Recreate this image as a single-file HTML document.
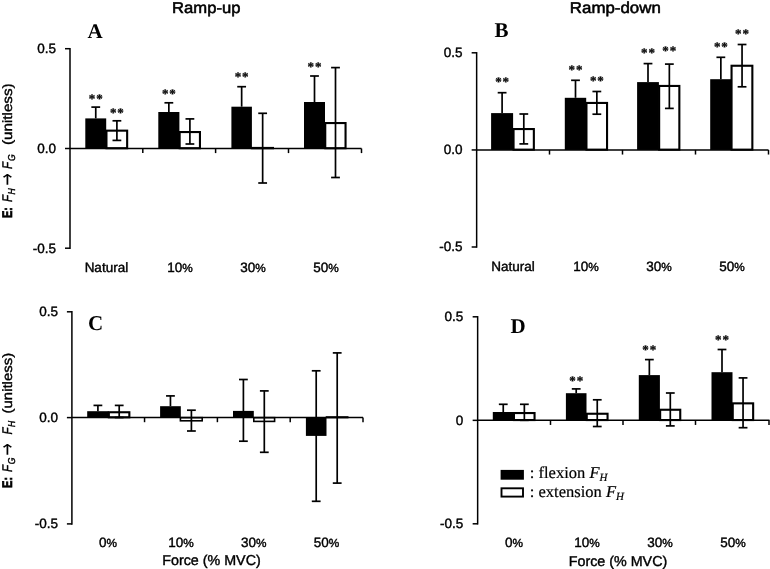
<!DOCTYPE html>
<html><head><meta charset="utf-8"><title>Figure</title>
<style>html,body{margin:0;padding:0;background:#fff}svg{display:block;will-change:transform}text{text-rendering:geometricPrecision}</style></head>
<body>
<svg width="770" height="569" viewBox="0 0 770 569">
<rect width="770" height="569" fill="#fff"/>
<rect x="85.30" y="118.40" width="20.90" height="30.10" fill="#000"/>
<rect x="106.45" y="130.65" width="20.70" height="17.55" fill="#fff" stroke="#000" stroke-width="2.1"/>
<rect x="158.30" y="112.00" width="21.10" height="36.50" fill="#000"/>
<rect x="179.65" y="132.05" width="20.30" height="16.15" fill="#fff" stroke="#000" stroke-width="2.1"/>
<rect x="231.40" y="106.70" width="20.50" height="41.80" fill="#000"/>
<line x1="251.10" y1="148.07" x2="274.00" y2="148.07" stroke="#000" stroke-width="2.3499999999999943"/>
<rect x="304.00" y="102.00" width="21.00" height="46.50" fill="#000"/>
<rect x="325.25" y="123.05" width="20.30" height="25.15" fill="#fff" stroke="#000" stroke-width="2.1"/>
<line x1="70.00" y1="47.95" x2="70.00" y2="248.95" stroke="#000" stroke-width="1.5"/>
<line x1="65.00" y1="48.70" x2="70.00" y2="48.70" stroke="#000" stroke-width="1.5"/>
<line x1="65.00" y1="148.50" x2="70.00" y2="148.50" stroke="#000" stroke-width="1.5"/>
<line x1="65.00" y1="248.20" x2="70.00" y2="248.20" stroke="#000" stroke-width="1.5"/>
<line x1="70.00" y1="148.50" x2="361.50" y2="148.50" stroke="#000" stroke-width="1.5"/>
<line x1="142.80" y1="148.50" x2="142.80" y2="153.10" stroke="#000" stroke-width="1.5"/>
<line x1="215.60" y1="148.50" x2="215.60" y2="153.10" stroke="#000" stroke-width="1.5"/>
<line x1="288.50" y1="148.50" x2="288.50" y2="153.10" stroke="#000" stroke-width="1.5"/>
<line x1="361.50" y1="148.50" x2="361.50" y2="153.10" stroke="#000" stroke-width="1.5"/>
<line x1="95.75" y1="107.10" x2="95.75" y2="118.40" stroke="#000" stroke-width="1.7"/>
<line x1="91.35" y1="107.10" x2="100.15" y2="107.10" stroke="#000" stroke-width="1.7"/>
<text x="96.22" y="102.70" font-size="13" text-anchor="middle" font-family='"Liberation Serif", serif'  font-weight="bold" letter-spacing="0.95" stroke="#000" stroke-width="0.3">**</text>
<line x1="116.90" y1="120.80" x2="116.90" y2="140.40" stroke="#000" stroke-width="1.7"/>
<line x1="112.50" y1="120.80" x2="121.30" y2="120.80" stroke="#000" stroke-width="1.7"/>
<line x1="112.50" y1="140.40" x2="121.30" y2="140.40" stroke="#000" stroke-width="1.7"/>
<text x="117.38" y="116.65" font-size="13" text-anchor="middle" font-family='"Liberation Serif", serif'  font-weight="bold" letter-spacing="0.95" stroke="#000" stroke-width="0.3">**</text>
<line x1="168.85" y1="102.80" x2="168.85" y2="112.00" stroke="#000" stroke-width="1.7"/>
<line x1="164.45" y1="102.80" x2="173.25" y2="102.80" stroke="#000" stroke-width="1.7"/>
<text x="169.33" y="97.60" font-size="13" text-anchor="middle" font-family='"Liberation Serif", serif'  font-weight="bold" letter-spacing="0.95" stroke="#000" stroke-width="0.3">**</text>
<line x1="189.90" y1="118.90" x2="189.90" y2="144.00" stroke="#000" stroke-width="1.7"/>
<line x1="185.50" y1="118.90" x2="194.30" y2="118.90" stroke="#000" stroke-width="1.7"/>
<line x1="185.50" y1="144.00" x2="194.30" y2="144.00" stroke="#000" stroke-width="1.7"/>
<line x1="241.65" y1="86.70" x2="241.65" y2="106.70" stroke="#000" stroke-width="1.7"/>
<line x1="237.25" y1="86.70" x2="246.05" y2="86.70" stroke="#000" stroke-width="1.7"/>
<text x="242.12" y="81.20" font-size="13" text-anchor="middle" font-family='"Liberation Serif", serif'  font-weight="bold" letter-spacing="0.95" stroke="#000" stroke-width="0.3">**</text>
<line x1="262.65" y1="113.30" x2="262.65" y2="183.00" stroke="#000" stroke-width="1.7"/>
<line x1="258.25" y1="113.30" x2="267.05" y2="113.30" stroke="#000" stroke-width="1.7"/>
<line x1="258.25" y1="183.00" x2="267.05" y2="183.00" stroke="#000" stroke-width="1.7"/>
<line x1="314.50" y1="76.00" x2="314.50" y2="102.00" stroke="#000" stroke-width="1.7"/>
<line x1="310.10" y1="76.00" x2="318.90" y2="76.00" stroke="#000" stroke-width="1.7"/>
<text x="314.98" y="70.95" font-size="13" text-anchor="middle" font-family='"Liberation Serif", serif'  font-weight="bold" letter-spacing="0.95" stroke="#000" stroke-width="0.3">**</text>
<line x1="335.50" y1="67.60" x2="335.50" y2="177.50" stroke="#000" stroke-width="1.7"/>
<line x1="331.10" y1="67.60" x2="339.90" y2="67.60" stroke="#000" stroke-width="1.7"/>
<line x1="331.10" y1="177.50" x2="339.90" y2="177.50" stroke="#000" stroke-width="1.7"/>
<text x="56.00" y="53.00" font-size="13.5" text-anchor="end" font-family='"Liberation Sans", sans-serif' stroke="#000" stroke-width="0.4" >0.5</text>
<text x="56.00" y="152.80" font-size="13.5" text-anchor="end" font-family='"Liberation Sans", sans-serif' stroke="#000" stroke-width="0.4" >0.0</text>
<text x="56.00" y="252.50" font-size="13.5" text-anchor="end" font-family='"Liberation Sans", sans-serif' stroke="#000" stroke-width="0.4" >-0.5</text>
<text x="106.40" y="271.50" font-size="13.5" text-anchor="middle" font-family='"Liberation Sans", sans-serif' stroke="#000" stroke-width="0.4" >Natural</text>
<text x="180.00" y="271.50" font-size="13.5" text-anchor="middle" font-family='"Liberation Sans", sans-serif' stroke="#000" stroke-width="0.4" >10<tspan font-size="11.8">%</tspan></text>
<text x="253.00" y="271.50" font-size="13.5" text-anchor="middle" font-family='"Liberation Sans", sans-serif' stroke="#000" stroke-width="0.4" >30<tspan font-size="11.8">%</tspan></text>
<text x="326.00" y="271.50" font-size="13.5" text-anchor="middle" font-family='"Liberation Sans", sans-serif' stroke="#000" stroke-width="0.4" >50<tspan font-size="11.8">%</tspan></text>
<text x="87.40" y="37.60" font-size="21" text-anchor="start" font-family='"Liberation Serif", serif'  font-weight="bold">A</text>
<rect x="491.10" y="113.10" width="22.00" height="36.85" fill="#000"/>
<rect x="513.55" y="129.05" width="20.30" height="20.60" fill="#fff" stroke="#000" stroke-width="2.1"/>
<rect x="564.80" y="97.80" width="21.40" height="52.15" fill="#000"/>
<rect x="586.45" y="102.95" width="20.60" height="46.70" fill="#fff" stroke="#000" stroke-width="2.1"/>
<rect x="637.10" y="82.10" width="21.80" height="67.85" fill="#000"/>
<rect x="659.15" y="85.95" width="20.20" height="63.70" fill="#fff" stroke="#000" stroke-width="2.1"/>
<rect x="710.20" y="79.20" width="21.30" height="70.75" fill="#000"/>
<rect x="731.55" y="65.75" width="20.80" height="83.90" fill="#fff" stroke="#000" stroke-width="2.1"/>
<line x1="476.65" y1="52.05" x2="476.65" y2="247.75" stroke="#000" stroke-width="1.5"/>
<line x1="471.65" y1="52.80" x2="476.65" y2="52.80" stroke="#000" stroke-width="1.5"/>
<line x1="471.65" y1="149.95" x2="476.65" y2="149.95" stroke="#000" stroke-width="1.5"/>
<line x1="471.65" y1="247.00" x2="476.65" y2="247.00" stroke="#000" stroke-width="1.5"/>
<line x1="476.65" y1="149.95" x2="768.50" y2="149.95" stroke="#000" stroke-width="1.5"/>
<line x1="549.50" y1="149.95" x2="549.50" y2="154.55" stroke="#000" stroke-width="1.5"/>
<line x1="622.50" y1="149.95" x2="622.50" y2="154.55" stroke="#000" stroke-width="1.5"/>
<line x1="695.50" y1="149.95" x2="695.50" y2="154.55" stroke="#000" stroke-width="1.5"/>
<line x1="768.50" y1="149.95" x2="768.50" y2="154.55" stroke="#000" stroke-width="1.5"/>
<line x1="502.10" y1="92.70" x2="502.10" y2="113.10" stroke="#000" stroke-width="1.7"/>
<line x1="497.70" y1="92.70" x2="506.50" y2="92.70" stroke="#000" stroke-width="1.7"/>
<text x="502.58" y="85.95" font-size="13" text-anchor="middle" font-family='"Liberation Serif", serif'  font-weight="bold" letter-spacing="0.95" stroke="#000" stroke-width="0.3">**</text>
<line x1="523.80" y1="114.00" x2="523.80" y2="143.90" stroke="#000" stroke-width="1.7"/>
<line x1="519.40" y1="114.00" x2="528.20" y2="114.00" stroke="#000" stroke-width="1.7"/>
<line x1="519.40" y1="143.90" x2="528.20" y2="143.90" stroke="#000" stroke-width="1.7"/>
<line x1="575.50" y1="80.30" x2="575.50" y2="97.80" stroke="#000" stroke-width="1.7"/>
<line x1="571.10" y1="80.30" x2="579.90" y2="80.30" stroke="#000" stroke-width="1.7"/>
<text x="575.98" y="73.70" font-size="13" text-anchor="middle" font-family='"Liberation Serif", serif'  font-weight="bold" letter-spacing="0.95" stroke="#000" stroke-width="0.3">**</text>
<line x1="596.85" y1="91.50" x2="596.85" y2="114.20" stroke="#000" stroke-width="1.7"/>
<line x1="592.45" y1="91.50" x2="601.25" y2="91.50" stroke="#000" stroke-width="1.7"/>
<line x1="592.45" y1="114.20" x2="601.25" y2="114.20" stroke="#000" stroke-width="1.7"/>
<text x="597.33" y="84.80" font-size="13" text-anchor="middle" font-family='"Liberation Serif", serif'  font-weight="bold" letter-spacing="0.95" stroke="#000" stroke-width="0.3">**</text>
<line x1="648.00" y1="63.60" x2="648.00" y2="82.10" stroke="#000" stroke-width="1.7"/>
<line x1="643.60" y1="63.60" x2="652.40" y2="63.60" stroke="#000" stroke-width="1.7"/>
<text x="648.48" y="57.30" font-size="13" text-anchor="middle" font-family='"Liberation Serif", serif'  font-weight="bold" letter-spacing="0.95" stroke="#000" stroke-width="0.3">**</text>
<line x1="669.35" y1="64.10" x2="669.35" y2="108.40" stroke="#000" stroke-width="1.7"/>
<line x1="664.95" y1="64.10" x2="673.75" y2="64.10" stroke="#000" stroke-width="1.7"/>
<line x1="664.95" y1="108.40" x2="673.75" y2="108.40" stroke="#000" stroke-width="1.7"/>
<text x="669.82" y="55.10" font-size="13" text-anchor="middle" font-family='"Liberation Serif", serif'  font-weight="bold" letter-spacing="0.95" stroke="#000" stroke-width="0.3">**</text>
<line x1="720.85" y1="57.30" x2="720.85" y2="79.20" stroke="#000" stroke-width="1.7"/>
<line x1="716.45" y1="57.30" x2="725.25" y2="57.30" stroke="#000" stroke-width="1.7"/>
<text x="721.33" y="50.60" font-size="13" text-anchor="middle" font-family='"Liberation Serif", serif'  font-weight="bold" letter-spacing="0.95" stroke="#000" stroke-width="0.3">**</text>
<line x1="742.05" y1="44.50" x2="742.05" y2="86.80" stroke="#000" stroke-width="1.7"/>
<line x1="737.65" y1="44.50" x2="746.45" y2="44.50" stroke="#000" stroke-width="1.7"/>
<line x1="737.65" y1="86.80" x2="746.45" y2="86.80" stroke="#000" stroke-width="1.7"/>
<text x="742.52" y="37.60" font-size="13" text-anchor="middle" font-family='"Liberation Serif", serif'  font-weight="bold" letter-spacing="0.95" stroke="#000" stroke-width="0.3">**</text>
<text x="462.50" y="57.10" font-size="13.5" text-anchor="end" font-family='"Liberation Sans", sans-serif' stroke="#000" stroke-width="0.4" >0.5</text>
<text x="462.50" y="154.25" font-size="13.5" text-anchor="end" font-family='"Liberation Sans", sans-serif' stroke="#000" stroke-width="0.4" >0.0</text>
<text x="462.50" y="251.30" font-size="13.5" text-anchor="end" font-family='"Liberation Sans", sans-serif' stroke="#000" stroke-width="0.4" >-0.5</text>
<text x="513.00" y="271.00" font-size="13.5" text-anchor="middle" font-family='"Liberation Sans", sans-serif' stroke="#000" stroke-width="0.4" >Natural</text>
<text x="586.00" y="271.00" font-size="13.5" text-anchor="middle" font-family='"Liberation Sans", sans-serif' stroke="#000" stroke-width="0.4" >10<tspan font-size="11.8">%</tspan></text>
<text x="659.00" y="271.00" font-size="13.5" text-anchor="middle" font-family='"Liberation Sans", sans-serif' stroke="#000" stroke-width="0.4" >30<tspan font-size="11.8">%</tspan></text>
<text x="732.00" y="271.00" font-size="13.5" text-anchor="middle" font-family='"Liberation Sans", sans-serif' stroke="#000" stroke-width="0.4" >50<tspan font-size="11.8">%</tspan></text>
<text x="494.40" y="37.10" font-size="21" text-anchor="start" font-family='"Liberation Serif", serif'  font-weight="bold">B</text>
<rect x="87.20" y="411.20" width="21.40" height="6.40" fill="#000"/>
<rect x="108.85" y="412.25" width="20.50" height="5.05" fill="#fff" stroke="#000" stroke-width="2.1"/>
<rect x="160.10" y="406.20" width="20.70" height="11.40" fill="#000"/>
<rect x="180.40" y="417.65" width="21.80" height="3.15" fill="#fff" stroke="#000" stroke-width="1.6"/>
<rect x="233.00" y="410.90" width="20.80" height="6.70" fill="#000"/>
<rect x="253.80" y="417.65" width="20.80" height="3.75" fill="#fff" stroke="#000" stroke-width="1.6"/>
<rect x="305.90" y="417.60" width="20.60" height="18.30" fill="#000"/>
<line x1="325.70" y1="417.27" x2="348.50" y2="417.27" stroke="#000" stroke-width="2.150000000000034"/>
<line x1="71.90" y1="311.05" x2="71.90" y2="524.65" stroke="#000" stroke-width="1.5"/>
<line x1="66.90" y1="311.80" x2="71.90" y2="311.80" stroke="#000" stroke-width="1.5"/>
<line x1="66.90" y1="417.60" x2="71.90" y2="417.60" stroke="#000" stroke-width="1.5"/>
<line x1="66.90" y1="523.90" x2="71.90" y2="523.90" stroke="#000" stroke-width="1.5"/>
<line x1="71.90" y1="417.60" x2="363.00" y2="417.60" stroke="#000" stroke-width="1.5"/>
<line x1="144.55" y1="417.60" x2="144.55" y2="422.20" stroke="#000" stroke-width="1.5"/>
<line x1="217.40" y1="417.60" x2="217.40" y2="422.20" stroke="#000" stroke-width="1.5"/>
<line x1="290.20" y1="417.60" x2="290.20" y2="422.20" stroke="#000" stroke-width="1.5"/>
<line x1="363.00" y1="417.60" x2="363.00" y2="422.20" stroke="#000" stroke-width="1.5"/>
<line x1="97.90" y1="405.40" x2="97.90" y2="411.20" stroke="#000" stroke-width="1.7"/>
<line x1="93.50" y1="405.40" x2="102.30" y2="405.40" stroke="#000" stroke-width="1.7"/>
<line x1="119.20" y1="405.40" x2="119.20" y2="417.50" stroke="#000" stroke-width="1.7"/>
<line x1="114.80" y1="405.40" x2="123.60" y2="405.40" stroke="#000" stroke-width="1.7"/>
<line x1="114.80" y1="417.50" x2="123.60" y2="417.50" stroke="#000" stroke-width="1.7"/>
<line x1="170.45" y1="395.90" x2="170.45" y2="406.20" stroke="#000" stroke-width="1.7"/>
<line x1="166.05" y1="395.90" x2="174.85" y2="395.90" stroke="#000" stroke-width="1.7"/>
<line x1="191.40" y1="410.20" x2="191.40" y2="431.00" stroke="#000" stroke-width="1.7"/>
<line x1="187.00" y1="410.20" x2="195.80" y2="410.20" stroke="#000" stroke-width="1.7"/>
<line x1="187.00" y1="431.00" x2="195.80" y2="431.00" stroke="#000" stroke-width="1.7"/>
<line x1="243.40" y1="379.50" x2="243.40" y2="441.20" stroke="#000" stroke-width="1.7"/>
<line x1="239.00" y1="379.50" x2="247.80" y2="379.50" stroke="#000" stroke-width="1.7"/>
<line x1="239.00" y1="441.20" x2="247.80" y2="441.20" stroke="#000" stroke-width="1.7"/>
<line x1="264.30" y1="390.90" x2="264.30" y2="452.30" stroke="#000" stroke-width="1.7"/>
<line x1="259.90" y1="390.90" x2="268.70" y2="390.90" stroke="#000" stroke-width="1.7"/>
<line x1="259.90" y1="452.30" x2="268.70" y2="452.30" stroke="#000" stroke-width="1.7"/>
<line x1="316.20" y1="370.80" x2="316.20" y2="501.30" stroke="#000" stroke-width="1.7"/>
<line x1="311.80" y1="370.80" x2="320.60" y2="370.80" stroke="#000" stroke-width="1.7"/>
<line x1="311.80" y1="501.30" x2="320.60" y2="501.30" stroke="#000" stroke-width="1.7"/>
<line x1="337.20" y1="352.90" x2="337.20" y2="483.10" stroke="#000" stroke-width="1.7"/>
<line x1="332.80" y1="352.90" x2="341.60" y2="352.90" stroke="#000" stroke-width="1.7"/>
<line x1="332.80" y1="483.10" x2="341.60" y2="483.10" stroke="#000" stroke-width="1.7"/>
<text x="58.00" y="316.10" font-size="13.5" text-anchor="end" font-family='"Liberation Sans", sans-serif' stroke="#000" stroke-width="0.4" >0.5</text>
<text x="58.00" y="421.90" font-size="13.5" text-anchor="end" font-family='"Liberation Sans", sans-serif' stroke="#000" stroke-width="0.4" >0.0</text>
<text x="58.00" y="528.20" font-size="13.5" text-anchor="end" font-family='"Liberation Sans", sans-serif' stroke="#000" stroke-width="0.4" >-0.5</text>
<text x="108.00" y="547.10" font-size="13.5" text-anchor="middle" font-family='"Liberation Sans", sans-serif' stroke="#000" stroke-width="0.4" >0<tspan font-size="11.8">%</tspan></text>
<text x="181.00" y="547.10" font-size="13.5" text-anchor="middle" font-family='"Liberation Sans", sans-serif' stroke="#000" stroke-width="0.4" >10<tspan font-size="11.8">%</tspan></text>
<text x="253.70" y="547.10" font-size="13.5" text-anchor="middle" font-family='"Liberation Sans", sans-serif' stroke="#000" stroke-width="0.4" >30<tspan font-size="11.8">%</tspan></text>
<text x="326.50" y="547.10" font-size="13.5" text-anchor="middle" font-family='"Liberation Sans", sans-serif' stroke="#000" stroke-width="0.4" >50<tspan font-size="11.8">%</tspan></text>
<text x="88.00" y="329.50" font-size="21" text-anchor="start" font-family='"Liberation Serif", serif'  font-weight="bold">C</text>
<rect x="492.80" y="412.00" width="20.90" height="8.35" fill="#000"/>
<rect x="513.95" y="413.05" width="20.60" height="7.00" fill="#fff" stroke="#000" stroke-width="2.1"/>
<rect x="565.90" y="393.20" width="20.60" height="27.15" fill="#000"/>
<rect x="586.75" y="413.75" width="20.80" height="6.30" fill="#fff" stroke="#000" stroke-width="2.1"/>
<rect x="638.80" y="375.10" width="21.10" height="45.25" fill="#000"/>
<rect x="660.15" y="409.75" width="20.10" height="10.30" fill="#fff" stroke="#000" stroke-width="2.1"/>
<rect x="711.50" y="372.20" width="21.00" height="48.15" fill="#000"/>
<rect x="732.75" y="403.35" width="20.40" height="16.70" fill="#fff" stroke="#000" stroke-width="2.1"/>
<line x1="477.65" y1="316.05" x2="477.65" y2="524.55" stroke="#000" stroke-width="1.5"/>
<line x1="472.65" y1="316.80" x2="477.65" y2="316.80" stroke="#000" stroke-width="1.5"/>
<line x1="472.65" y1="420.35" x2="477.65" y2="420.35" stroke="#000" stroke-width="1.5"/>
<line x1="472.65" y1="523.80" x2="477.65" y2="523.80" stroke="#000" stroke-width="1.5"/>
<line x1="477.65" y1="420.35" x2="769.50" y2="420.35" stroke="#000" stroke-width="1.5"/>
<line x1="550.50" y1="420.35" x2="550.50" y2="424.95" stroke="#000" stroke-width="1.5"/>
<line x1="623.00" y1="420.35" x2="623.00" y2="424.95" stroke="#000" stroke-width="1.5"/>
<line x1="695.50" y1="420.35" x2="695.50" y2="424.95" stroke="#000" stroke-width="1.5"/>
<line x1="769.00" y1="420.35" x2="769.00" y2="424.95" stroke="#000" stroke-width="1.5"/>
<line x1="503.25" y1="404.30" x2="503.25" y2="412.00" stroke="#000" stroke-width="1.7"/>
<line x1="498.85" y1="404.30" x2="507.65" y2="404.30" stroke="#000" stroke-width="1.7"/>
<line x1="524.35" y1="404.30" x2="524.35" y2="420.30" stroke="#000" stroke-width="1.7"/>
<line x1="519.95" y1="404.30" x2="528.75" y2="404.30" stroke="#000" stroke-width="1.7"/>
<line x1="519.95" y1="420.30" x2="528.75" y2="420.30" stroke="#000" stroke-width="1.7"/>
<line x1="576.20" y1="388.90" x2="576.20" y2="393.20" stroke="#000" stroke-width="1.7"/>
<line x1="571.80" y1="388.90" x2="580.60" y2="388.90" stroke="#000" stroke-width="1.7"/>
<text x="576.68" y="384.50" font-size="13" text-anchor="middle" font-family='"Liberation Serif", serif'  font-weight="bold" letter-spacing="0.95" stroke="#000" stroke-width="0.3">**</text>
<line x1="597.25" y1="399.80" x2="597.25" y2="426.50" stroke="#000" stroke-width="1.7"/>
<line x1="592.85" y1="399.80" x2="601.65" y2="399.80" stroke="#000" stroke-width="1.7"/>
<line x1="592.85" y1="426.50" x2="601.65" y2="426.50" stroke="#000" stroke-width="1.7"/>
<line x1="649.35" y1="359.60" x2="649.35" y2="375.10" stroke="#000" stroke-width="1.7"/>
<line x1="644.95" y1="359.60" x2="653.75" y2="359.60" stroke="#000" stroke-width="1.7"/>
<text x="649.82" y="354.00" font-size="13" text-anchor="middle" font-family='"Liberation Serif", serif'  font-weight="bold" letter-spacing="0.95" stroke="#000" stroke-width="0.3">**</text>
<line x1="670.30" y1="393.00" x2="670.30" y2="425.90" stroke="#000" stroke-width="1.7"/>
<line x1="665.90" y1="393.00" x2="674.70" y2="393.00" stroke="#000" stroke-width="1.7"/>
<line x1="665.90" y1="425.90" x2="674.70" y2="425.90" stroke="#000" stroke-width="1.7"/>
<line x1="722.00" y1="349.50" x2="722.00" y2="372.20" stroke="#000" stroke-width="1.7"/>
<line x1="717.60" y1="349.50" x2="726.40" y2="349.50" stroke="#000" stroke-width="1.7"/>
<text x="722.48" y="344.20" font-size="13" text-anchor="middle" font-family='"Liberation Serif", serif'  font-weight="bold" letter-spacing="0.95" stroke="#000" stroke-width="0.3">**</text>
<line x1="743.05" y1="377.90" x2="743.05" y2="427.70" stroke="#000" stroke-width="1.7"/>
<line x1="738.65" y1="377.90" x2="747.45" y2="377.90" stroke="#000" stroke-width="1.7"/>
<line x1="738.65" y1="427.70" x2="747.45" y2="427.70" stroke="#000" stroke-width="1.7"/>
<text x="463.20" y="321.10" font-size="13.5" text-anchor="end" font-family='"Liberation Sans", sans-serif' stroke="#000" stroke-width="0.4" >0.5</text>
<text x="463.20" y="424.65" font-size="13.5" text-anchor="end" font-family='"Liberation Sans", sans-serif' stroke="#000" stroke-width="0.4" >0</text>
<text x="463.20" y="528.10" font-size="13.5" text-anchor="end" font-family='"Liberation Sans", sans-serif' stroke="#000" stroke-width="0.4" >-0.5</text>
<text x="514.00" y="546.50" font-size="13.5" text-anchor="middle" font-family='"Liberation Sans", sans-serif' stroke="#000" stroke-width="0.4" >0<tspan font-size="11.8">%</tspan></text>
<text x="587.00" y="546.50" font-size="13.5" text-anchor="middle" font-family='"Liberation Sans", sans-serif' stroke="#000" stroke-width="0.4" >10<tspan font-size="11.8">%</tspan></text>
<text x="660.00" y="546.50" font-size="13.5" text-anchor="middle" font-family='"Liberation Sans", sans-serif' stroke="#000" stroke-width="0.4" >30<tspan font-size="11.8">%</tspan></text>
<text x="733.00" y="546.50" font-size="13.5" text-anchor="middle" font-family='"Liberation Sans", sans-serif' stroke="#000" stroke-width="0.4" >50<tspan font-size="11.8">%</tspan></text>
<text x="510.40" y="333.20" font-size="21" text-anchor="start" font-family='"Liberation Serif", serif'  font-weight="bold">D</text>
<text transform="translate(206.3,12.6) scale(1.06,1)" font-size="15.7" text-anchor="middle" font-family='"Liberation Sans", sans-serif' stroke="#000" stroke-width="0.55">Ramp-up</text>
<text transform="translate(615.3,12.5) scale(1.075,1)" font-size="15.7" text-anchor="middle" font-family='"Liberation Sans", sans-serif' stroke="#000" stroke-width="0.55">Ramp-down</text>
<text x="211.50" y="565.00" font-size="14.3" text-anchor="middle" font-family='"Liberation Sans", sans-serif' stroke="#000" stroke-width="0.4" >Force (% MVC)</text>
<text x="618.00" y="566.00" font-size="14.3" text-anchor="middle" font-family='"Liberation Sans", sans-serif' stroke="#000" stroke-width="0.4" >Force (% MVC)</text>

<g transform="translate(12.3,217.6) rotate(-90)" font-family='"Liberation Sans", sans-serif' fill="#000">
<text transform="translate(-0.50,0) scale(0.78,1)" font-size="14" font-weight="bold" stroke="#000" stroke-width="0.7">E:</text>
<text transform="translate(15.50,0) scale(0.82,1)" font-size="14" font-style="italic" stroke="#000" stroke-width="0.4">F</text>
<text transform="translate(23.20,3) scale(0.85,1)" font-size="10" font-style="italic" stroke="#000" stroke-width="0.4">H</text>
<text transform="translate(32.00,1.8) scale(1,1.45)" font-size="14.5" font-family='"DejaVu Sans", sans-serif'>→</text>
<text transform="translate(48.60,0) scale(0.82,1)" font-size="14" font-style="italic" stroke="#000" stroke-width="0.4">F</text>
<text transform="translate(56.60,3) scale(0.85,1)" font-size="10" font-style="italic" stroke="#000" stroke-width="0.4">G</text>
<text transform="translate(72.60,0) scale(1.125,1)" font-size="13.5" stroke="#000" stroke-width="0.4">(unitless)</text>
</g>
<g transform="translate(12.3,487.4) rotate(-90)" font-family='"Liberation Sans", sans-serif' fill="#000">
<text transform="translate(-0.50,0) scale(0.78,1)" font-size="14" font-weight="bold" stroke="#000" stroke-width="0.7">E:</text>
<text transform="translate(15.50,0) scale(0.82,1)" font-size="14" font-style="italic" stroke="#000" stroke-width="0.4">F</text>
<text transform="translate(23.20,3) scale(0.85,1)" font-size="10" font-style="italic" stroke="#000" stroke-width="0.4">G</text>
<text transform="translate(32.00,1.8) scale(1,1.45)" font-size="14.5" font-family='"DejaVu Sans", sans-serif'>→</text>
<text transform="translate(52.80,0) scale(0.82,1)" font-size="14" font-style="italic" stroke="#000" stroke-width="0.4">F</text>
<text transform="translate(60.50,3) scale(0.85,1)" font-size="10" font-style="italic" stroke="#000" stroke-width="0.4">H</text>
<text transform="translate(74.00,0) scale(1.105,1)" font-size="13.5" stroke="#000" stroke-width="0.4">(unitless)</text>
</g>
<rect x="500.6" y="469.9" width="23.3" height="9.8" fill="#000"/>
<rect x="501.5" y="488.3" width="21.5" height="8.3" fill="#fff" stroke="#000" stroke-width="1.9"/>
<text x="529.8" y="478" font-size="16.5" font-family='"Liberation Serif", serif' stroke="#000" stroke-width="0.2">: flexion <tspan font-style="italic">F</tspan><tspan font-style="italic" font-size="11" dy="3">H</tspan></text>
<text x="529.8" y="496.8" font-size="16.5" font-family='"Liberation Serif", serif' stroke="#000" stroke-width="0.2">: extension <tspan font-style="italic">F</tspan><tspan font-style="italic" font-size="11" dy="3">H</tspan></text>
</svg>
</body></html>
